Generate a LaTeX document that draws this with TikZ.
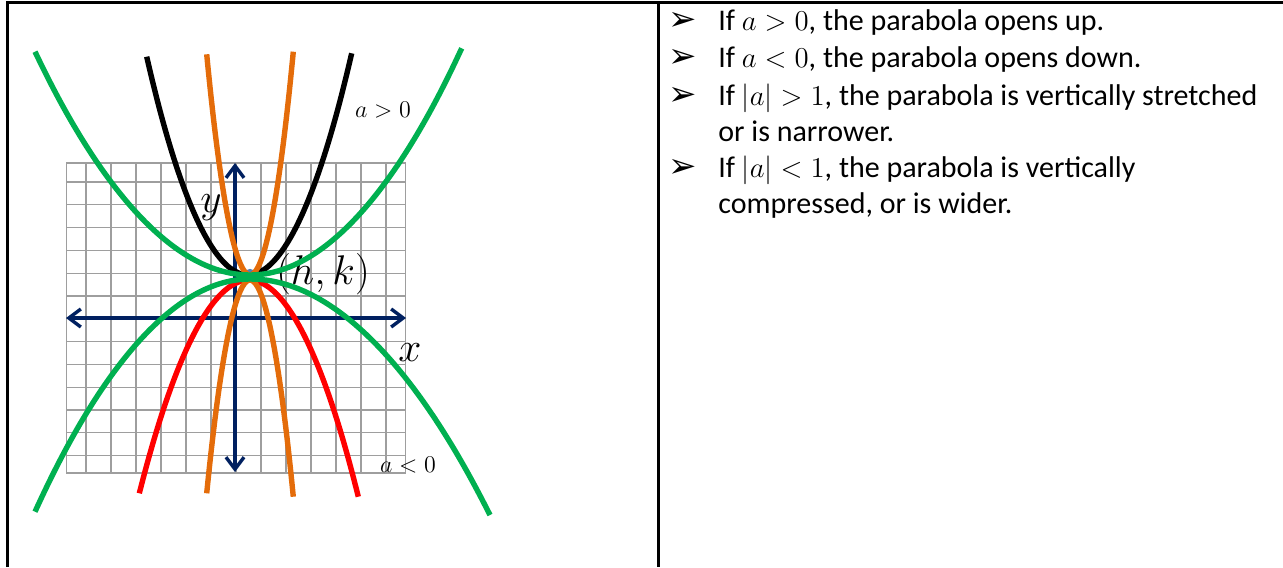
\documentclass[tikz,border=0pt]{standalone}
\usepackage{fontspec}
\setmainfont{Carlito}
\newfontfamily\dingfont{DejaVu Sans}
\usetikzlibrary{arrows.meta}
\definecolor{parabgreen}{RGB}{0,176,80}
\definecolor{paraborange}{RGB}{228,108,10}
\definecolor{axisnavy}{RGB}{0,32,96}
\definecolor{dotblue}{RGB}{79,129,189}
\tikzset{
  tableline/.style={line width=1.5pt, black},
  gridline/.style={line width=0.6pt, black!38},
  axisline/.style={line width=1.7pt, axisnavy, {Straight Barb[length=6pt,width=9pt]}-{Straight Barb[length=6pt,width=9pt]}},
  curve/.style={line width=2.7pt},
  axislabel/.style={inner sep=0pt, font=\fontsize{20}{20}\selectfont},
  signlabel/.style={inner sep=0pt, font=\fontsize{12}{12}\selectfont},
  itemtext/.style={anchor=base west, inner sep=0pt, font=\fontsize{15}{18}\selectfont},
  itembullet/.style={anchor=base, inner sep=0pt, font=\dingfont\fontsize{17}{17}\selectfont}
}

\begin{document}
\begin{tikzpicture}[x=0.5pt, y=-0.5pt]
\useasboundingbox (0,0) rectangle (1283,567);
% table cells
\draw[tableline] (7.5,567) -- (7.5,2.5) -- (1283,2.5);
\draw[tableline] (658,2.5) -- (658,567);

% grid
\draw[gridline] (66.5,163) rectangle (405.5,473);
\foreach \gx in {86,111,...,386}
  \draw[gridline] (\gx,163) -- (\gx,473);
\foreach \gy in {182,204.8,227.6,250.4,273.2,296,318.8,341.6,364.4,387.2,410,432.8,455.6}
  \draw[gridline] (66.5,\gy) -- (405.5,\gy);

% axes
\coordinate (xmin) at (66,318);
\coordinate (xmax) at (406,318);
\coordinate (ymax) at (235,163);
\coordinate (ymin) at (235,472);
\draw[axisline] (xmin) -- (xmax);
\draw[axisline] (ymin) -- (ymax);

% labels
\node[axislabel] (ylab) at (211,208) {$y$};
\node[axislabel] (xlab) at (410,353) {$x$};
\node[axislabel] (hk) at (323,274) {$(h,k)$};
\node[signlabel] (apos) at (383,110) {$a>0$};
\node[signlabel] (aneg) at (408,465) {$a<0$};

% parabolas
\fill[dotblue] (250,274) circle[radius=2.6pt];
\draw[curve, black] (146.7,56.7) parabola bend (248,275) (351.7,53.3);
\draw[curve, red] (139.3,493.3) parabola bend (249,280) (358.3,496.7);
\draw[curve, paraborange] (206.7,54.3) parabola bend (250,275) (293.3,51.7);
\draw[curve, paraborange] (206.7,493.3) parabola bend (250,280) (293.3,496.7);
\draw[curve, parabgreen] (35,51.7) parabola bend (250,275) (461.7,48.3);
\draw[curve, parabgreen] (35,511.7) parabola bend (250,279) (490,515);

% notes
\node[itembullet] (b1) at (683,31) {➢};
\node[itemtext] (t1) at (718,31) {If $a>0$, the parabola opens up.};
\node[itembullet] (b2) at (683,68) {➢};
\node[itemtext] (t2) at (718,68) {If $a<0$, the parabola opens down.};
\node[itembullet] (b3) at (683,105) {➢};
\node[itemtext] (t3) at (718,105) {If $|a|>1$, the parabola is vertically stretched};
\node[itemtext] (t3b) at (718,141) {or is narrower.};
\node[itembullet] (b4) at (683,177) {➢};
\node[itemtext] (t4) at (718,177) {If $|a|<1$, the parabola is vertically};
\node[itemtext] (t4b) at (718,213) {compressed, or is wider.};
\end{tikzpicture}
\end{document}
